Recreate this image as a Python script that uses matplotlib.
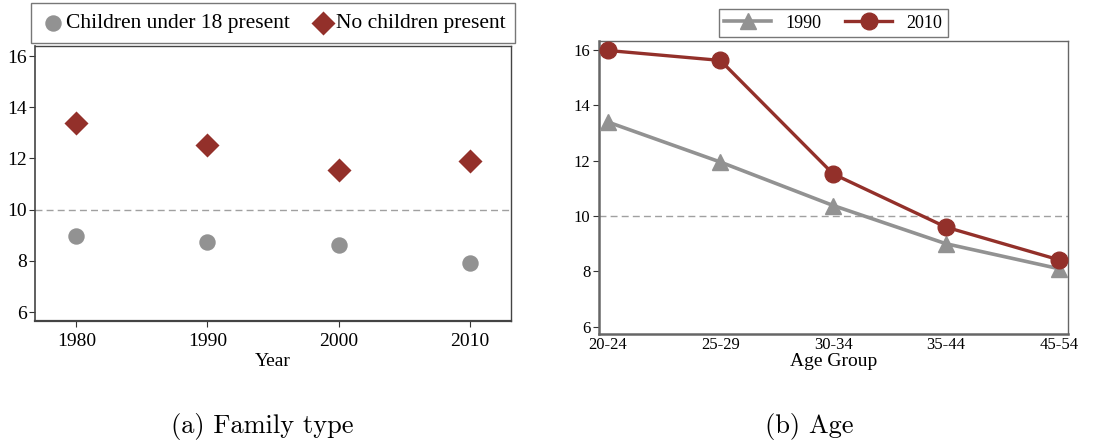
import numpy as np
import matplotlib
matplotlib.use('Agg')
from matplotlib import pyplot as plt

# panel (a): share by family type
years = [1980, 1990, 2000, 2010]
with_kids = [8.98, 8.72, 8.60, 7.93]
no_kids = [13.40, 12.52, 11.55, 11.90]

# panel (b): by age group
age_groups = ['20-24', '25-29', '30-34', '35-44', '45-54']
age_1990 = [13.40, 11.95, 10.38, 9.00, 8.10]
age_2010 = [15.98, 15.62, 11.52, 9.60, 8.42]

yticks = [6, 8, 10, 12, 14, 16]

RED = '#93302a'
GREY = '#929292'

plt.rcParams['font.family'] = ['Liberation Serif', 'DejaVu Serif']

fig = plt.figure(figsize=(11.09, 4.43), dpi=100)

# ---- (a) Family type ----
ax1 = fig.add_axes([0.0316, 0.276, 0.4292, 0.620])
ax1.axhline(10, color='#a0a0a0', lw=1.0, ls=(0, (5, 3)), zorder=1)
ax1.scatter(years, with_kids, s=140, marker='o', color=GREY, lw=0, zorder=3,
            label='Children under 18 present')
ax1.scatter(years, no_kids, s=150, marker='D', color=RED, lw=0, zorder=3,
            label='No children present')
ax1.set_xlim(1976.85, 2013.15)
ax1.set_ylim(5.66, 16.39)
ax1.set_xticks(years)
ax1.set_yticks(yticks)
ax1.tick_params(axis='both', labelsize=14, color='#333333', length=4, width=0.8)
ax1.tick_params(axis='y', pad=2)
ax1.tick_params(axis='x', pad=5)
for s in ax1.spines.values():
    s.set_color('#444444')
    s.set_linewidth(1.0)
ax1.spines['bottom'].set_linewidth(1.6)
ax1.spines['left'].set_linewidth(1.2)
ax1.set_xlabel('Year', fontsize=14, labelpad=2)
leg1 = ax1.legend(ncol=2, loc='lower center', bbox_to_anchor=(0.5, 1.0),
                  fontsize=15.5, frameon=True, fancybox=False, borderpad=0.45,
                  handletextpad=0.05, columnspacing=1.0, handlelength=1.1,
                  borderaxespad=0.15)
leg1.get_frame().set_edgecolor('#555555')
leg1.get_frame().set_linewidth(1.0)

# ---- (b) Age ----
ax2 = fig.add_axes([0.540, 0.246, 0.4229, 0.662])
x = np.arange(len(age_groups))
ax2.axhline(10, color='#a0a0a0', lw=1.0, ls=(0, (5, 3)), zorder=1)
ax2.plot(x, age_1990, color=GREY, lw=2.6, marker='^', ms=12, zorder=3, label='1990')
ax2.plot(x, age_2010, color=RED, lw=2.4, marker='o', ms=12, zorder=4, label='2010')
ax2.set_xlim(-0.077, 4.08)
ax2.set_ylim(5.74, 16.33)
ax2.set_xticks(x)
ax2.set_xticklabels(age_groups)
ax2.set_yticks(yticks)
ax2.tick_params(axis='x', length=0, labelsize=12, pad=2)
ax2.tick_params(axis='y', labelsize=12, length=4, width=0.8, color='#333333', pad=2)
for s in ax2.spines.values():
    s.set_color('#666666')
    s.set_linewidth(1.8)
ax2.spines['top'].set_linewidth(1.0)
ax2.spines['right'].set_linewidth(1.0)
ax2.set_xlabel('Age Group', fontsize=14, labelpad=0)
leg2 = ax2.legend(ncol=2, loc='lower center', bbox_to_anchor=(0.5, 1.0),
                  fontsize=13, frameon=True, fancybox=False, borderpad=0.3,
                  handletextpad=0.8, columnspacing=1.3, handlelength=2.6,
                  borderaxespad=0.2)
leg2.get_frame().set_edgecolor('#555555')
leg2.get_frame().set_linewidth(1.0)

# sub-captions in a LaTeX-like face
fig.text(0.2365, 0.022, '(a) Family type', fontsize=19, family='cmr10', ha='center')
fig.text(0.7295, 0.022, '(b) Age', fontsize=19, family='cmr10', ha='center')

fig.savefig('out.png', dpi=100)
